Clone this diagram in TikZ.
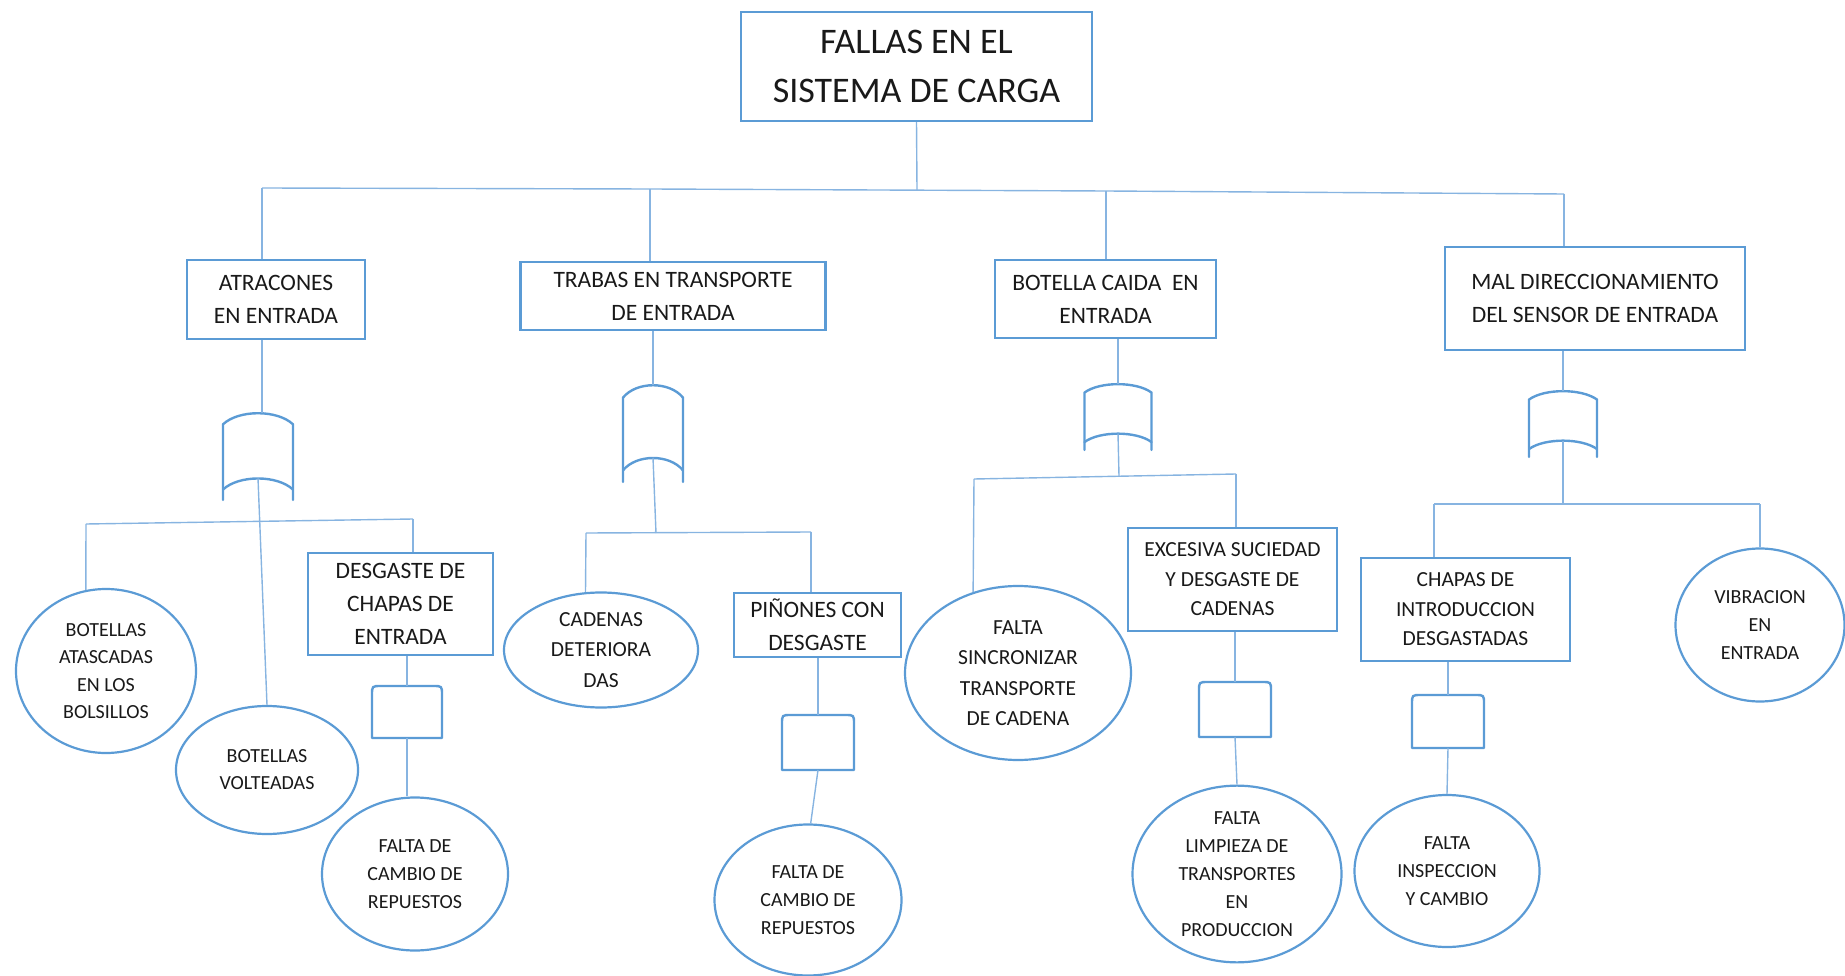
\documentclass[tikz,border=0pt]{standalone}
\usepackage{fontspec}
\setmainfont{Carlito}
\usetikzlibrary{shapes.geometric}
\definecolor{bord}{RGB}{91,155,213}
\definecolor{conn}{RGB}{135,180,225}
\definecolor{txt}{RGB}{25,25,25}
\tikzset{
  box/.style={draw=bord, line width=2.2pt, rectangle, inner sep=0pt, align=center, text=txt},
  oval/.style={draw=bord, line width=2.2pt, ellipse, inner sep=0pt, align=center, text=txt},
  gate/.style={draw=bord, line width=2.4pt, line join=round, line cap=round},
  wire/.style={draw=conn, line width=1.4pt},
  fT/.style={font=\fontsize{36}{49}\selectfont},
  fA/.style={font=\fontsize{23.5}{33}\selectfont},
  fB/.style={font=\fontsize{21.5}{29.5}\selectfont},
  fC/.style={font=\fontsize{20}{28}\selectfont},
  fD/.style={font=\fontsize{21.5}{30.5}\selectfont},
}
\newcommand\orgate[5]{%
  \begin{scope}[shift={(#2,#3)},x={(#4pt,0pt)},y={(0pt,-#5pt)}]
    \draw[gate] (-1,1) -- (-1,0.13) .. controls (-0.55,-0.04) and (0.55,-0.04) .. (1,0.13) -- (1,1);
    \draw[gate] (-1,0.88) .. controls (-0.55,0.71) and (0.55,0.71) .. (1,0.88);
    \coordinate (#1-top) at (0,0);
    \coordinate (#1-bot) at (0,0.75);
  \end{scope}}
\newcommand\andgate[5]{%
  \draw[gate] (#2,#5) -- (#2,#3+9) .. controls (#2,#3) .. (#2+9,#3) -- (#4-9,#3) .. controls (#4,#3) .. (#4,#3+9) -- (#4,#5) -- cycle;
  \coordinate (#1-top) at ({(#2+#4)/2},#3);
  \coordinate (#1-bot) at ({(#2+#4)/2},#5);}
\begin{document}
\begin{tikzpicture}[x=1pt,y=-1pt]
\useasboundingbox (0,0) rectangle (1845,976);

% top and level 1
\node[box, fT, minimum width=351pt, minimum height=109pt] (top) at (916.5,66.5) {FALLAS EN EL\\SISTEMA DE CARGA};
\node[box, fA, minimum width=178pt, minimum height=79pt] (b1) at (276,299.5) {ATRACONES\\EN ENTRADA};
\node[box, fA, minimum width=305pt, minimum height=68pt] (b2) at (673,296) {TRABAS EN TRANSPORTE\\DE ENTRADA};
\node[box, fA, minimum width=221pt, minimum height=78pt] (b3) at (1105.5,299) {BOTELLA CAIDA\ \ EN\\ENTRADA};
\node[box, fA, minimum width=300pt, minimum height=103pt] (b4) at (1595,298.5) {MAL DIRECCIONAMIENTO\\DEL SENSOR DE ENTRADA};

% intermediate boxes
\node[box, fA, minimum width=185pt, minimum height=102pt] (c1) at (400.5,604) {DESGASTE DE\\CHAPAS DE\\ENTRADA};
\node[box, fA, minimum width=167pt, minimum height=64pt] (c2) at (817.5,625) {PIÑONES CON\\DESGASTE};
\node[box, fB, minimum width=209pt, minimum height=103pt] (c3) at (1232.5,579.5) {EXCESIVA SUCIEDAD\\Y DESGASTE DE\\CADENAS};
\node[box, fB, minimum width=209pt, minimum height=103pt] (c4) at (1465.5,609.5) {CHAPAS DE\\INTRODUCCION\\DESGASTADAS};

% basic events
\node[oval, font=\fontsize{20}{27.5}\selectfont, minimum width=180pt, minimum height=164pt] (e1) at (106,671) {BOTELLAS\\ATASCADAS\\EN LOS\\BOLSILLOS};
\node[oval, font=\fontsize{20}{27}\selectfont, minimum width=182pt, minimum height=128pt] (e2) at (267,770) {BOTELLAS\\VOLTEADAS};
\node[oval, fC, minimum width=186pt, minimum height=153pt] (e3) at (415,874) {FALTA DE\\CAMBIO DE\\REPUESTOS};
\node[oval, fD, minimum width=194pt, minimum height=115pt] (e4) at (601,650) {CADENAS\\DETERIORA\\DAS};
\node[oval, fC, minimum width=187pt, minimum height=151pt] (e5) at (808,900) {FALTA DE\\CAMBIO DE\\REPUESTOS};
\node[oval, fD, minimum width=226pt, minimum height=174pt] (e6) at (1018,673) {FALTA\\SINCRONIZAR\\TRANSPORTE\\DE CADENA};
\node[oval, fC, minimum width=209pt, minimum height=171pt] (e7) at (1237,874) {FALTA\\LIMPIEZA DE\\TRANSPORTES\\EN\\PRODUCCION};
\node[oval, fC, minimum width=185pt, minimum height=152pt] (e8) at (1447,871) {FALTA\\INSPECCION\\Y CAMBIO};
\node[oval, fC, minimum width=169pt, minimum height=153pt] (e9) at (1760,625) {VIBRACION\\EN\\ENTRADA};

% gates
\orgate{g1}{258}{413}{35}{87}
\orgate{g2}{653}{385}{30}{97}
\orgate{g3}{1118}{384}{33.5}{66}
\orgate{g4}{1563}{391}{34}{66}
\andgate{a1}{372}{686}{442}{738}
\andgate{a2}{782}{715}{854}{770}
\andgate{a3}{1199}{682}{1271}{737}
\andgate{a4}{1412}{695}{1484}{748}

% main bus
\coordinate (j0) at (917,190);
\coordinate (k1) at (262,188);
\coordinate (k2) at (650,189);
\coordinate (k3) at (1106,191);
\coordinate (k4) at (1564,194);
\draw[wire] (top.south) -- (j0);
\draw[wire] (k1) -- (k2) -- (k3) -- (k4);
\draw[wire] (k1) -- (k1 |- b1.north);
\draw[wire] (k2) -- (k2 |- b2.north);
\draw[wire] (k3) -- (k3 |- b3.north);
\draw[wire] (k4) -- (k4 |- b4.north);

% branch 1
\draw[wire] (k1 |- b1.south) -- (k1 |- g1-top);
\coordinate (m1L) at (86,524);
\coordinate (m1R) at (413,519);
\draw[wire] (m1L) -- (m1R);
\draw[wire] (g1-bot) -- (e2.north);
\draw[wire] (m1L) -- (e1.104);
\draw[wire] (m1R) -- (m1R |- c1.north);
\draw[wire] (a1-top |- c1.south) -- (a1-top);
\draw[wire] (a1-bot) -- (a1-bot |- e3.north);

% branch 2
\draw[wire] (g2-top |- b2.south) -- (g2-top);
\coordinate (m2L) at (586,533);
\coordinate (m2R) at (811,532);
\coordinate (m2J) at (656,533);
\draw[wire] (m2L) -- (m2R);
\draw[wire] (g2-bot) -- (m2J);
\draw[wire] (m2L) -- (e4.105);
\draw[wire] (m2R) -- (m2R |- c2.north);
\draw[wire] (a2-top |- c2.south) -- (a2-top);
\draw[wire] (a2-bot) -- (e5.88);

% branch 3
\draw[wire] (g3-top |- b3.south) -- (g3-top);
\coordinate (m3L) at (974,479);
\coordinate (m3R) at (1236,474);
\coordinate (m3J) at (1119,476);
\draw[wire] (m3L) -- (m3R);
\draw[wire] (g3-bot) -- (m3J);
\draw[wire] (m3L) -- (e6.119);
\draw[wire] (m3R) -- (m3R |- c3.north);
\draw[wire] (a3-top |- c3.south) -- (a3-top);
\draw[wire] (a3-bot) -- (e7.north);

% branch 4
\draw[wire] (g4-top |- b4.south) -- (g4-top);
\coordinate (m4L) at (1434,504);
\coordinate (m4R) at (1760,504);
\coordinate (m4J) at (1563,504);
\draw[wire] (m4L) -- (m4R);
\draw[wire] (g4-bot) -- (m4J);
\draw[wire] (m4L) -- (m4L |- c4.north);
\draw[wire] (m4R) -- (e9.north);
\draw[wire] (a4-top |- c4.south) -- (a4-top);
\draw[wire] (a4-bot) -- (e8.north);
\end{tikzpicture}
\end{document}
